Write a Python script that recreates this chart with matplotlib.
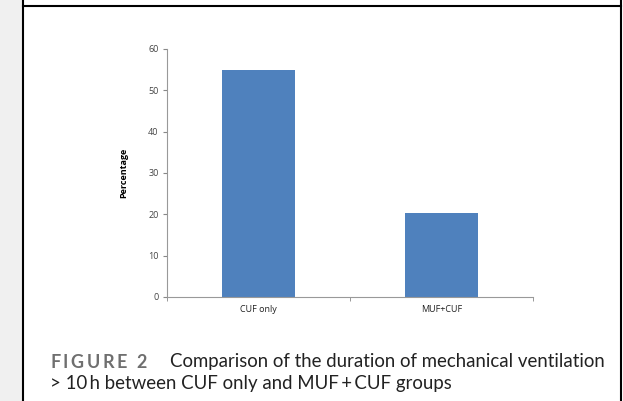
import matplotlib
matplotlib.use("Agg")
import matplotlib.pyplot as plt
from matplotlib.patches import Rectangle
from matplotlib.lines import Line2D

categories = ["CUF only", "MUF+CUF"]
values = [55, 20.3]
yticks = [0, 10, 20, 30, 40, 50, 60]

W, H = 623, 401
fig = plt.figure(figsize=(W/100, H/100), dpi=100)
fig.patch.set_facecolor("white")

# page decoration
fig.add_artist(Rectangle((0, 0), 22/W, 1, transform=fig.transFigure, color="#f0f0f0", zorder=0))
fig.add_artist(Line2D([23/W, 23/W], [0, 1], transform=fig.transFigure, color="black", lw=1.5))
fig.add_artist(Line2D([621/W, 621/W], [0, 1], transform=fig.transFigure, color="black", lw=1.5))
fig.add_artist(Line2D([23/W, 621/W], [1-5.5/H, 1-5.5/H], transform=fig.transFigure, color="black", lw=1.5))

x0, x1 = 167, 533
y0, y1 = 297, 49
ax = fig.add_axes([x0/W, 1-y0/H, (x1-x0)/W, (y0-y1)/H])
pos = list(range(len(categories)))
ax.bar(pos, values, width=0.4, color="#4f81bd", zorder=2)
ax.set_xlim(-0.5, 1.5)
ax.set_ylim(0, 60)
ax.set_yticks(yticks)
ax.set_yticklabels([str(t) for t in yticks], fontsize=6.5, color="#444444", family="Open Sans")
ax.set_xticks(pos)
ax.set_xticklabels(categories, fontsize=6.5, color="#222222", family="Open Sans")
ax.tick_params(axis="x", length=0, pad=6)
ax.set_xticks([-0.5, 0.5, 1.5], minor=True)
ax.tick_params(axis="x", which="minor", length=3, color="#888888")
ax.tick_params(axis="y", length=3, color="#888888", pad=3)
for s in ["top", "right"]:
    ax.spines[s].set_visible(False)
for s in ["left", "bottom"]:
    ax.spines[s].set_color("#999999")
    ax.spines[s].set_linewidth(0.8)
ax.set_ylabel("Percentage", fontsize=6.5, fontweight="bold", labelpad=14, family="Open Sans")

# caption: letter-spaced label
fig.canvas.draw()
renderer = fig.canvas.get_renderer()
xpos = 50
for ch in "FIGURE 2":
    t = fig.text(xpos/W, 1-362/H, ch, fontsize=13, fontweight="bold", color="#6f6f6f",
                 va="center", ha="left", family="Lato")
    w = t.get_window_extent(renderer).width if ch != " " else 4
    xpos += w + 2.6
fig.text(170/W, 1-362/H, "Comparison of the duration of mechanical ventilation",
         fontsize=13.4, color="#222222", va="center", ha="left", family="Lato")
fig.text(50/W, 1-384/H, "> 10\u2009h between CUF only and MUF\u2009+\u2009CUF groups",
         fontsize=13.4, color="#222222", va="center", ha="left", family="Lato")

fig.savefig("out.png", dpi=100)
